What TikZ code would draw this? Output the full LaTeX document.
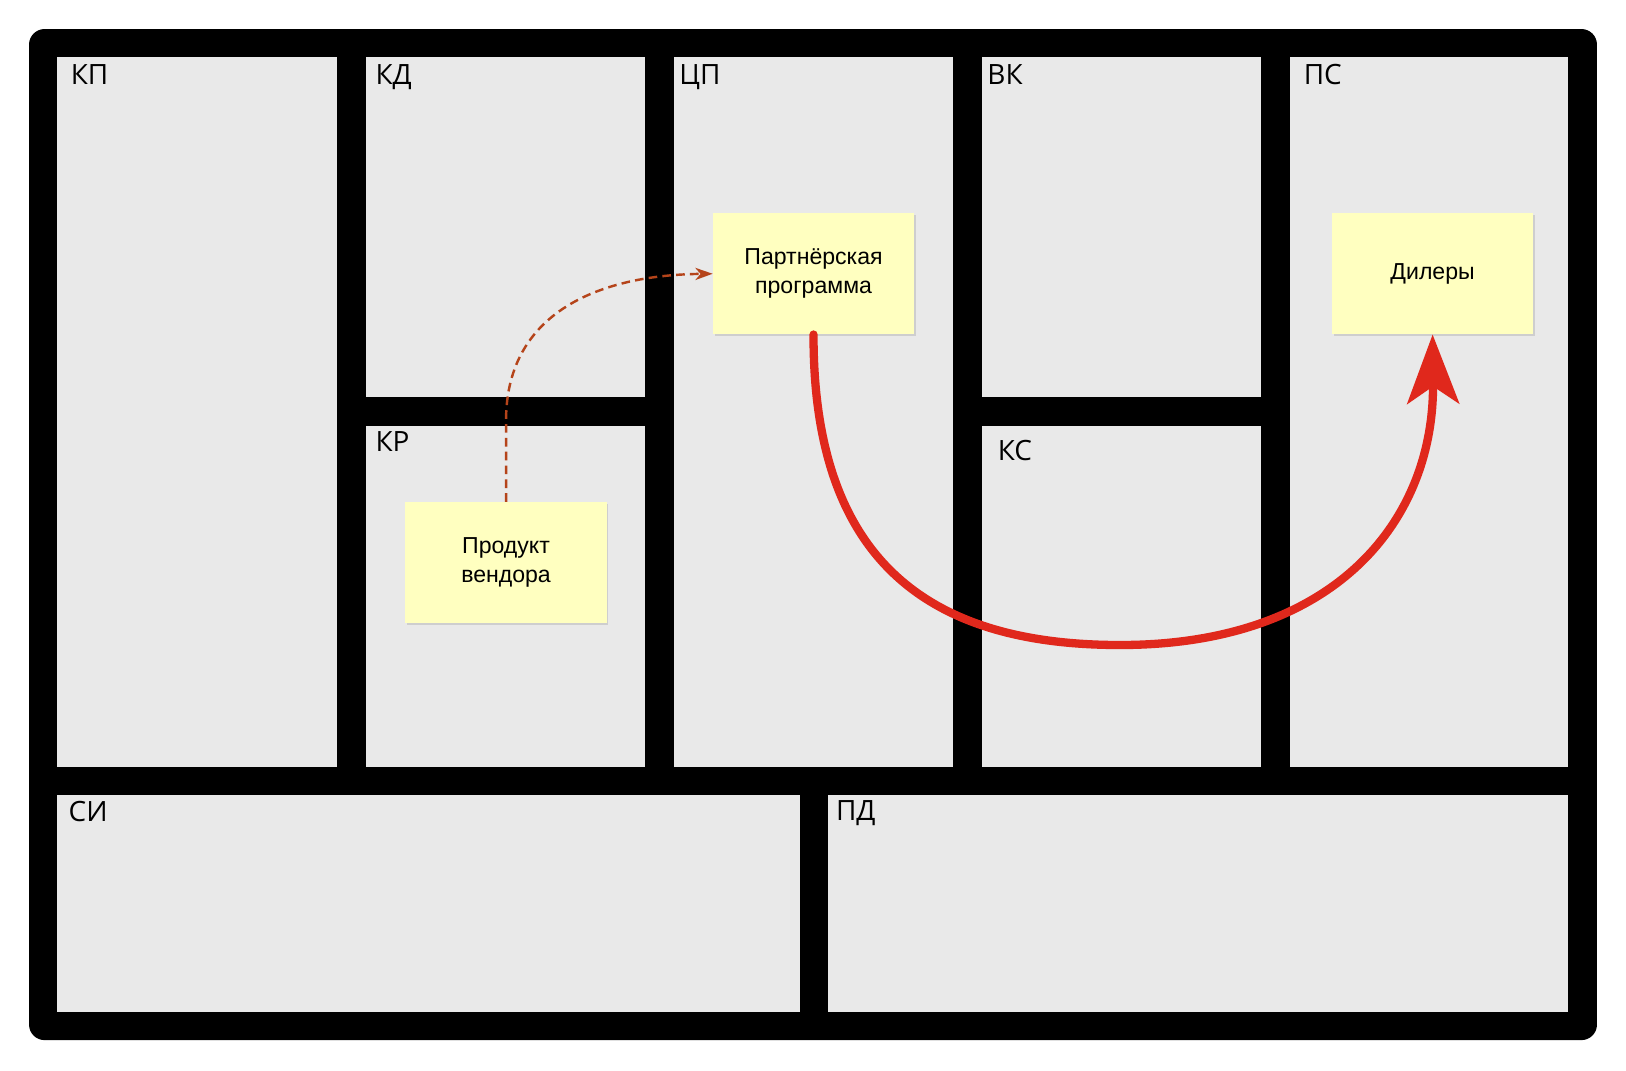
\documentclass[tikz,border=0pt]{standalone}
\usepackage{fontspec}
\setmainfont{Liberation Sans}
\newfontfamily\lbl{Open Sans}
\usetikzlibrary{arrows.meta,shadows}
\definecolor{cellg}{HTML}{E9E9E9}
\definecolor{note}{HTML}{FFFFC0}
\definecolor{darr}{HTML}{B5441A}
\definecolor{rarr}{HTML}{E0281C}
\begin{document}
\begin{tikzpicture}[x=0.03cm,y=-0.03cm,
 cell/.style={fill=cellg,draw=none},
 lab/.style={anchor=north west,inner sep=0,font=\lbl\fontsize{23}{26}\selectfont},
 stick/.style={fill=note,draw=none,minimum width=5.82cm,minimum height=3.5cm,align=center,
   font=\fontsize{19}{24}\selectfont,drop shadow={shadow xshift=0.05cm,shadow yshift=-0.05cm,opacity=0.25}}]
\useasboundingbox (0,0) rectangle (1568,1032);
\fill[black,rounded corners=0.45cm] (28,28) rectangle (1540,1003);
\fill[cell] (55,55) rectangle (325,740);
\fill[cell] (353,55) rectangle (622,383);
\fill[cell] (353,411) rectangle (622,740);
\fill[cell] (650,55) rectangle (919,740);
\fill[cell] (947,55) rectangle (1216,383);
\fill[cell] (947,411) rectangle (1216,740);
\fill[cell] (1244,55) rectangle (1512,740);
\fill[cell] (55,767) rectangle (771,976);
\fill[cell] (798,767) rectangle (1512,976);
\node[lab] (l1) at (68,62) {КП};
\node[lab] (l2) at (362,62) {КД};
\node[lab] (l3) at (362,416) {КР};
\node[lab] (l4) at (655,62) {ЦП};
\node[lab] (l5) at (952,62) {ВК};
\node[lab] (l6) at (962,424) {КС};
\node[lab] (l7) at (1257,62) {ПС};
\node[lab] (l8) at (66,772) {СИ};
\node[lab] (l9) at (806,772) {ПД};
\node[stick] (pp) at (784.5,264) {Партнёрская\\программа};
\node[stick] (dl) at (1381.5,264) {Дилеры};
\node[stick] (pv) at (488,542.5) {Продукт\\вендора};
\draw[darr,line width=2pt,dash pattern=on 0.25cm off 0.15cm,-{Stealth[length=0.5cm,width=0.35cm,inset=0.15cm]}]
  (pv.north) -- ++(0,-80) .. controls (489,300) and (580,265) .. (pp.west);
\draw[rarr,line width=0.24cm,line cap=round,-{Stealth[length=2cm,width=1.5cm,inset=0.5cm]}]
  (pp.south) .. controls (784,545) and (900,622) .. (1080,622)
  .. controls (1290,622) and (1383,500) .. (dl.south);
\end{tikzpicture}
\end{document}
